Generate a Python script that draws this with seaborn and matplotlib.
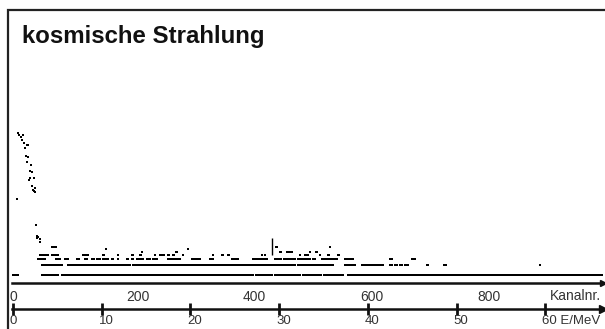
import numpy as np
import pandas as pd
import matplotlib
matplotlib.use("Agg")
import matplotlib.pyplot as plt
import seaborn as sns
from matplotlib.transforms import ScaledTranslation

# ---------------- data ----------------
title = "kosmische Strahlung"
channel_label = "Kanalnr."
channel_major = [0, 200, 400, 600, 800]
channel_major_labels = ["0", "200", "400", "600", "800"]
channel_minor = [100, 300, 500, 700, 900, 1000]
energy_ticks = [0, 10, 20, 30, 40, 50, 60]
energy_labels = ["0", "10", "20", "30", "40", "50", "60 E/MeV"]

# calibration (channels per MeV, offset)
CH_PER_MEV = 15.17
CH_OFFSET = 1.5

# peak region: channel, counts
peak_channels = [9, 11, 12, 15, 17, 18, 20, 22, 24, 25, 26, 27, 28, 29, 30,
                 31, 32, 34, 35, 36, 37, 38, 39, 40, 41, 42, 43, 45, 47, 48]
peak_counts = [200, 20500, 17500, 15500, 12000, 17000, 10000, 7000, 3900, 8700,
               2700, 3650, 8500, 760, 1440, 870, 2100, 1280, 500, 380, 340, 870,
               430, 330, 31, 12, 14, 13, 11, 9]

# background: runs of consecutive channels (first, last) holding the same count
runs_count0 = [(0, 10), (51, 53), (55, 57), (60, 62), (65, 70), (73, 78), (85, 202),
               (205, 219), (222, 275), (279, 284), (287, 395), (398, 412), (417, 444),
               (450, 484), (487, 492), (497, 500), (504, 511), (515, 520), (523, 528),
               (534, 566), (574, 600), (603, 1008)]
runs_count1 = [(51, 68), (71, 85), (96, 147), (150, 171), (173, 179), (181, 185),
               (188, 202), (207, 232), (236, 248), (250, 270), (273, 308), (311, 325),
               (327, 343), (347, 364), (367, 398), (402, 419), (421, 444), (446, 484),
               (488, 506), (509, 523), (526, 538), (541, 549), (569, 581), (583, 586),
               (598, 620), (624, 634), (646, 650), (655, 658), (663, 666), (672, 677),
               (709, 711), (738, 742), (902, 903)]
runs_count2 = [(45, 56), (76, 82), (91, 96), (111, 115), (125, 129), (136, 140),
               (146, 150), (156, 164), (171, 172), (181, 182), (197, 198), (205, 206),
               (213, 224), (231, 236), (241, 248), (267, 287), (308, 321), (338, 343),
               (376, 386), (412, 427), (429, 436), (449, 460), (464, 484), (489, 509),
               (514, 518), (530, 540), (543, 555), (569, 583), (646, 650), (684, 689)]
runs_count3 = [(48, 62), (68, 79), (122, 130), (156, 157), (181, 182), (205, 206),
               (219, 220), (244, 245), (253, 254), (258, 259), (267, 268), (275, 276),
               (292, 293), (343, 344), (359, 360), (369, 370), (427, 428), (432, 433),
               (492, 493), (501, 506), (526, 527), (540, 541), (557, 558)]
runs_count4 = [(222, 223), (281, 282), (458, 459), (470, 479), (509, 510), (520, 521)]
runs_count5 = [(160, 161), (300, 301)]
runs_count6 = [(68, 76), (452, 453), (543, 544)]

cursor_channel = 445
cursor_counts = (3, 12)

# ---------------- table ----------------
rows = list(zip(peak_channels, peak_counts))
for count, runs in [(0, runs_count0), (1, runs_count1), (2, runs_count2),
                    (3, runs_count3), (4, runs_count4), (5, runs_count5),
                    (6, runs_count6)]:
    for a, b in runs:
        for c in range(a, b + 1):
            rows.append((c, count))
df = pd.DataFrame(rows, columns=["channel", "counts"])

# ---------------- figure ----------------
sns.set_style("white")
plt.rcParams["font.family"] = ["Liberation Sans", "DejaVu Sans"]

W, H = 605, 329
fig = plt.figure(figsize=(W / 100, H / 100), dpi=100)

ax_left, ax_right = 12, 603      # pixel columns
ax_bottom, ax_top = 283, 40      # pixel rows (from top)
ax = fig.add_axes([ax_left / W, 1 - ax_bottom / H,
                   (ax_right - ax_left) / W, (ax_bottom - ax_top) / H])

PX_PER_DECADE = 33.0
ZERO_ROW = 275  # pixel row of zero counts


def fwd(y):
    return np.log10(np.clip(np.asarray(y, dtype=float) + 1.0, 1e-12, None))


def inv(v):
    return 10.0 ** np.asarray(v, dtype=float) - 1.0


sns.scatterplot(data=df, x="channel", y="counts", marker="s", s=2.6,
                linewidth=0, color="black", ax=ax, legend=False)
ax.vlines(cursor_channel, cursor_counts[0], cursor_counts[1], color="black", lw=1.0)

ax.set_yscale("function", functions=(fwd, inv))
ax.set_ylim(inv(-(ax_bottom - ZERO_ROW) / PX_PER_DECADE),
            inv((ZERO_ROW - ax_top) / PX_PER_DECADE))
ax.set_xlim(0, 1010)
ax.set_xlabel("")
ax.set_ylabel("")
ax.set_yticks([])

for s in ["top", "left", "right"]:
    ax.spines[s].set_visible(False)
ax.spines["bottom"].set_linewidth(1.8)
ax.spines["bottom"].set_color("#111111")

ax.set_xticks(channel_major)
ax.set_xticklabels(channel_major_labels)
ax.set_xticks(channel_minor, minor=True)
ax.tick_params(axis="x", which="major", direction="inout", length=10, width=2.0,
               color="#111111", labelsize=10, labelcolor="#333333", pad=0)
ax.tick_params(axis="x", which="minor", direction="inout", length=6, width=1.4,
               color="#111111")
off = ScaledTranslation(-3 / 100, 0, fig.dpi_scale_trans)
for lab in ax.get_xticklabels():
    lab.set_horizontalalignment("left")
    lab.set_transform(lab.get_transform() + off)

ax.annotate(channel_label, xy=(1.0, 0.0), xycoords="axes fraction",
            xytext=(-2, -6), textcoords="offset pixels", ha="right", va="top",
            fontsize=10, color="#333333")
ax.plot([1.0], [0.0], marker=">", ms=5, color="#111111", transform=ax.transAxes,
        clip_on=False)

# energy scale
ax_h = ax_bottom - ax_top
energy_loc = -(309 - ax_bottom) / ax_h
sec = ax.secondary_xaxis(energy_loc,
                         functions=(lambda ch: (ch - CH_OFFSET) / CH_PER_MEV,
                                    lambda e: e * CH_PER_MEV + CH_OFFSET))
sec.set_xticks(energy_ticks)
sec.set_xticklabels(energy_labels)
sec.spines["bottom"].set_linewidth(1.8)
sec.spines["bottom"].set_color("#111111")
sec.tick_params(axis="x", which="major", direction="inout", length=8, width=2.0,
                color="#111111", labelsize=9.5, labelcolor="#333333", pad=0.3)
for lab in sec.get_xticklabels():
    lab.set_horizontalalignment("left")
    lab.set_transform(lab.get_transform() + off)
ax.plot([1.0], [energy_loc], marker=">", ms=6, color="#111111",
        transform=ax.transAxes, clip_on=False)

# title and frame
fig.text(22 / W, 1 - 43 / H, title, fontsize=17.3, fontweight="bold",
         va="baseline", ha="left", color="#111111")
fig.add_artist(plt.Rectangle((8 / W, -0.2), 1.5, 1.2 - 10 / H,
                             transform=fig.transFigure, fill=False,
                             lw=1.6, ec="#222222"))

fig.savefig("out.png", dpi=100)
